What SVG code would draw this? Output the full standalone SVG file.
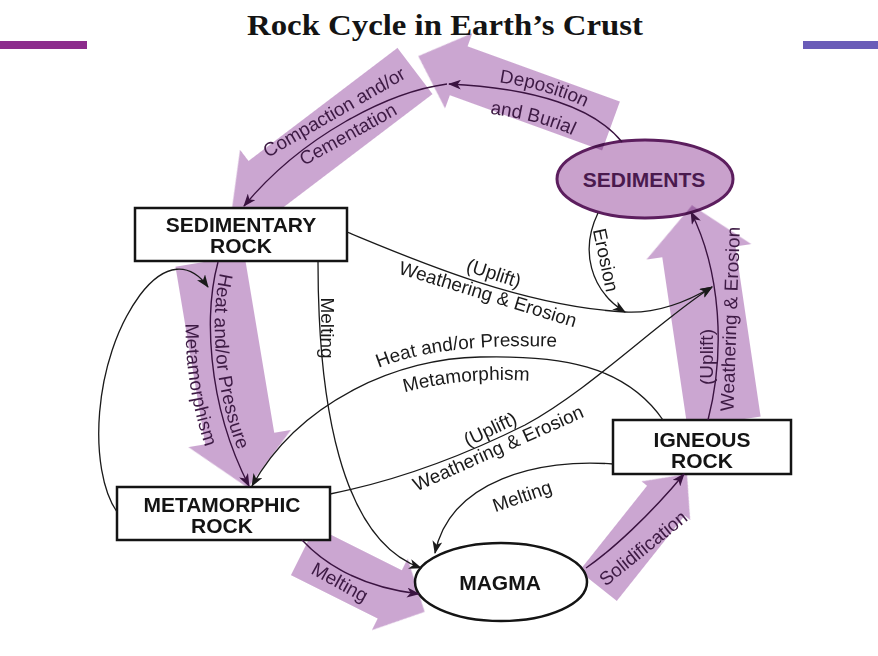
<svg xmlns="http://www.w3.org/2000/svg" width="878" height="656" viewBox="0 0 878 656">
<style>
.band{fill:#cba6d1}
.box{fill:#fff;stroke:#141414;stroke-width:2.5}
.nt{font-family:"Liberation Sans",Arial,sans-serif;font-weight:bold;font-size:21px;fill:#141414;text-anchor:middle}
.ln{fill:none;stroke:#1a1a1a;stroke-width:1.3;marker-end:url(#ah)}
.lnp{fill:none;stroke:#3a1340;stroke-width:1.4;marker-end:url(#ahp)}
.lbl{font-family:"Liberation Sans",Arial,sans-serif;font-size:19px;fill:#1a1a1a}
.lp{fill:#3d1a44}
.c{text-anchor:middle}
</style>
<defs>
<marker id="ah" viewBox="0 0 13 10" refX="12" refY="5" markerWidth="13" markerHeight="10" markerUnits="userSpaceOnUse" orient="auto"><path d="M0,0 L13,5 L0,10 L3.5,5 Z" fill="#1a1a1a"/></marker>
<marker id="ahp" viewBox="0 0 13 10" refX="12" refY="5" markerWidth="13" markerHeight="10" markerUnits="userSpaceOnUse" orient="auto"><path d="M0,0 L13,5 L0,10 L3.5,5 Z" fill="#3a1340"/></marker>
<path id="pDep" d="M447,77 C531,81 599,104 627,138"/>
<path id="pBur" d="M447,110 C527,114 585,132 606,161"/>
<path id="pHP" d="M376,369 Q440,342 560,347"/>
<path id="pMet" d="M402,393 Q465,376 532,381"/>
<path id="pHP2" d="M222,265 C209,312 210,400 253,484"/>
<path id="pMet2" d="M193,258 C180,310 180,404 224,492"/>
</defs>
<rect width="878" height="656" fill="#fff"/>
<g id="title">
<rect x="0" y="41" width="87" height="8" fill="#8c2b8c"/>
<rect x="803" y="41" width="75" height="8" fill="#6a5cb8"/>
<text x="445" y="35" font-family="'Liberation Serif','Times New Roman',serif" font-weight="bold" font-size="30" fill="#141414" text-anchor="middle" textLength="396" lengthAdjust="spacingAndGlyphs">Rock Cycle in Earth’s Crust</text>
</g>
<g id="sediments">
<ellipse cx="645" cy="179" rx="88" ry="39" fill="#c9a1cc" stroke="#5c1e5e" stroke-width="3"/>
<text class="nt" x="644" y="187" style="fill:#4a1a4e">SEDIMENTS</text>
</g>
<g id="bands" style="mix-blend-mode:multiply">
<polygon class="band" transform="translate(611,126) rotate(-160.07)" points="0,-26 162,-26 162,-40 205,0 162,40 162,26 0,26"/>
<polygon class="band" transform="translate(415,71) rotate(142.8)" points="0,-29 187,-29 187,-43 230,0 187,43 187,29 0,29"/>
<polygon class="band" transform="translate(210,261) rotate(80.5)" points="0,-35 180,-35 180,-52 230,0 180,52 180,35 0,35"/>
<polygon class="band" transform="translate(303,551) rotate(26.57)" points="0,-27 97,-27 97,-40 136,0 97,40 97,27 0,27"/>
<polygon class="band" transform="translate(598,586) rotate(-51.5)" points="0,-24 109,-24 109,-31 143,0 109,31 109,24 0,24"/>
<polygon class="band" transform="translate(724,422) rotate(-98.4)" points="0,-37 172,-37 172,-53 219,0 172,53 172,37 0,37"/>
</g>
<g id="sedimentary-rock">
<rect class="box" x="135" y="208" width="212" height="53"/>
<text class="nt" x="241" y="232">SEDIMENTARY</text>
<text class="nt" x="241" y="253">ROCK</text>
</g>
<g id="metamorphic-rock">
<rect class="box" x="117" y="487" width="213" height="53"/>
<text class="nt" x="222" y="512">METAMORPHIC</text>
<text class="nt" x="222" y="533">ROCK</text>
</g>
<g id="igneous-rock">
<rect class="box" x="613" y="420" width="178" height="54"/>
<text class="nt" x="702" y="447">IGNEOUS</text>
<text class="nt" x="702" y="468">ROCK</text>
</g>
<g id="magma">
<ellipse cx="501" cy="582" rx="86" ry="39" fill="#fff" stroke="#141414" stroke-width="2.5"/>
<text class="nt" x="500" y="590">MAGMA</text>
</g>
<g id="connectors">
<path class="lnp" d="M622,142 C595,108 535,88 449,84"/>
<path class="lnp" d="M447,84 C388,92 302,136 244,206"/>
<path class="ln" d="M598,213 C580,250 590,290 625,312"/>
<path class="ln" d="M347,232 C410,258 520,306 625,312 C660,314 690,300 712,287"/>
<path class="ln" d="M663,420 C625,365 560,355 480,357 C400,358 300,400 252,486"/>
<path class="ln" d="M330,494 C390,482 455,460 525,425 C590,390 660,320 712,287"/>
<path class="ln" d="M613,464 C540,458 450,480 435,553"/>
<path class="ln" d="M318,262 C318,400 340,540 421,568"/>
<path class="lnp" d="M302,540 C330,570 370,588 419,594"/>
<path class="lnp" d="M586,568 C612,550 650,515 684,474"/>
<path class="lnp" d="M708,420 C726,350 720,270 691,212"/>
<path class="ln" d="M117,512 C88,470 92,360 140,295 C165,262 190,262 208,287"/>
<path class="lnp" d="M218,262 C205,310 205,400 249,486"/>
<text class="lbl lp"><textPath href="#pDep" startOffset="50%" text-anchor="middle">Deposition</textPath></text>
<text class="lbl lp"><textPath href="#pBur" startOffset="50%" text-anchor="middle">and Burial</textPath></text>
<text class="lbl lp c" transform="translate(334,112) rotate(-30)" dy=".35em">Compaction and/or</text>
<text class="lbl lp c" transform="translate(348,134) rotate(-29)" dy=".35em">Cementation</text>
<text class="lbl c" transform="translate(606,260) rotate(78)" dy=".35em">Erosion</text>
<text class="lbl c" transform="translate(494,273) rotate(18)" dy=".35em">(Uplift)</text>
<text class="lbl c" transform="translate(488,294) rotate(17)" dy=".35em">Weathering &amp; Erosion</text>
<text class="lbl"><textPath href="#pHP" startOffset="50%" text-anchor="middle">Heat and/or Pressure</textPath></text>
<text class="lbl"><textPath href="#pMet" startOffset="50%" text-anchor="middle">Metamorphism</textPath></text>
<text class="lbl c" transform="translate(490,429) rotate(-25)" dy=".35em">(Uplift)</text>
<text class="lbl c" transform="translate(498,448) rotate(-24)" dy=".35em">Weathering &amp; Erosion</text>
<text class="lbl c" transform="translate(328,328) rotate(90)" dy=".35em">Melting</text>
<text class="lbl lp"><textPath href="#pHP2" startOffset="8">Heat and/or Pressure</textPath></text>
<text class="lbl lp"><textPath href="#pMet2" startOffset="66">Metamorphism</textPath></text>
<text class="lbl lp c" transform="translate(706,357) rotate(-90)" dy=".35em">(Uplift)</text>
<text class="lbl lp c" transform="translate(730,319) rotate(-88)" dy=".35em">Weathering &amp; Erosion</text>
<text class="lbl c" transform="translate(522,496) rotate(-19)" dy=".35em">Melting</text>
<text class="lbl lp c" transform="translate(340,582) rotate(29)" dy=".35em">Melting</text>
<text class="lbl lp c" transform="translate(643,548) rotate(-39)" dy=".35em">Solidification</text>
</g>
</svg>
